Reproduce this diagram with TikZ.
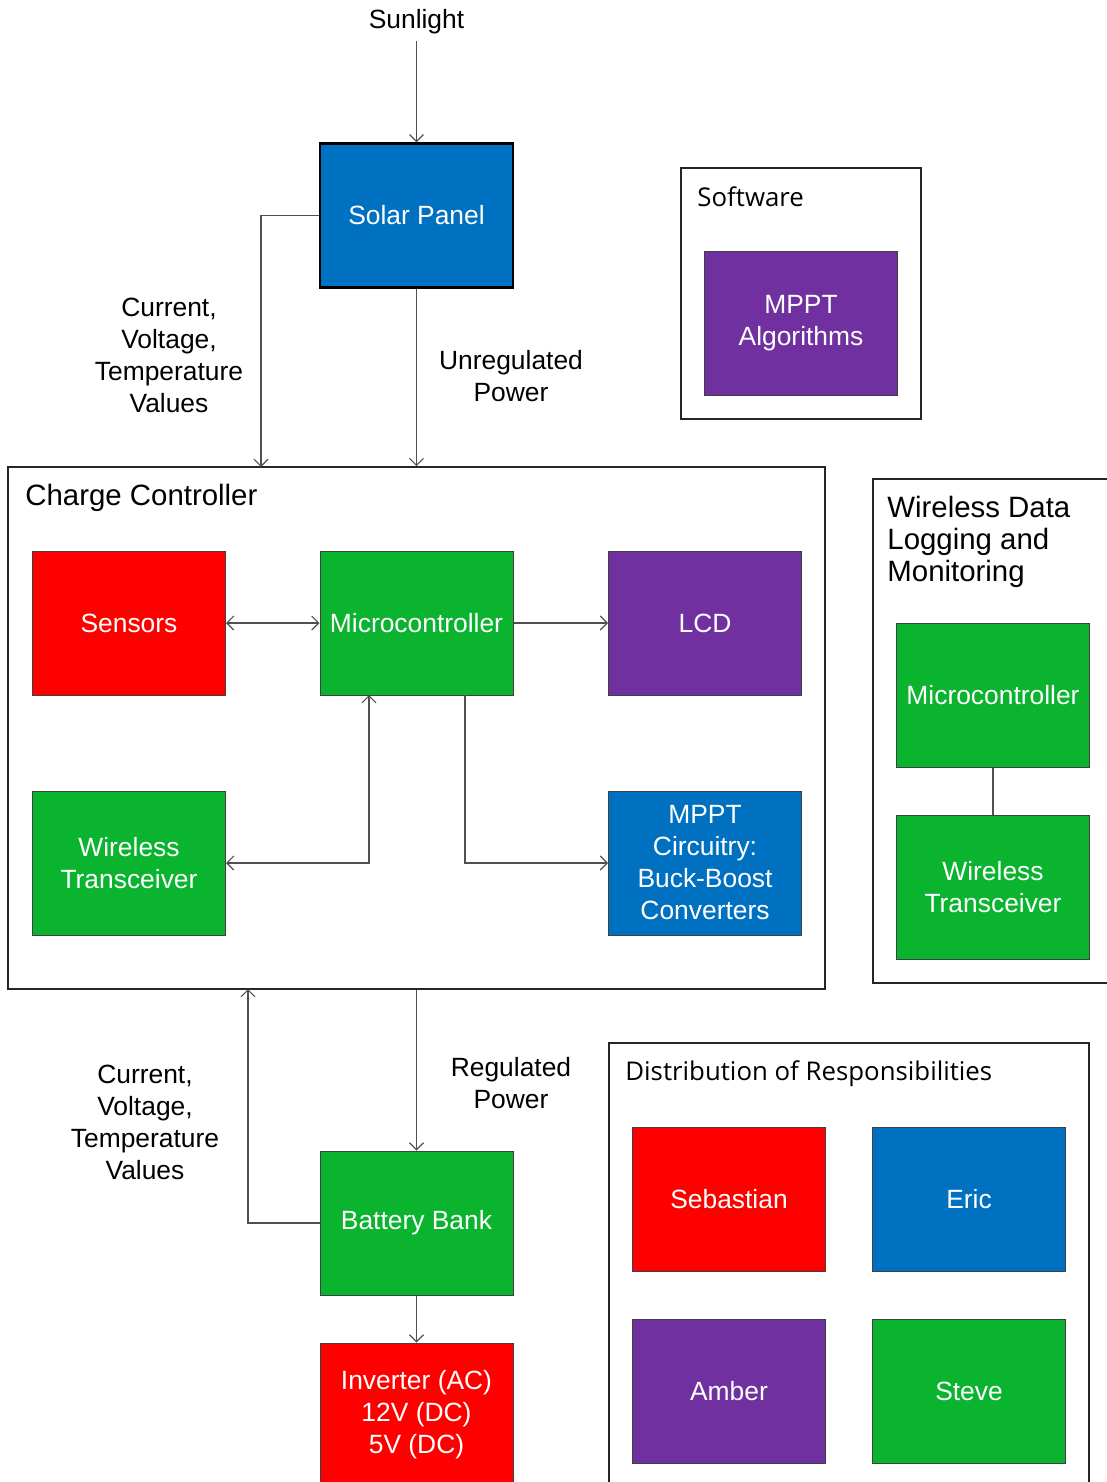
\documentclass[tikz,border=0pt]{standalone}
\usepackage{fontspec}
\setmainfont{Liberation Sans}
\newfontfamily\uifont{Open Sans}
\definecolor{panelblue}{HTML}{0070C0}
\definecolor{alertred}{HTML}{FF0000}
\definecolor{chipgreen}{HTML}{0AB42F}
\definecolor{softpurple}{HTML}{7030A0}
\definecolor{wiregray}{HTML}{505050}
\usepackage{tikz}
\usetikzlibrary{arrows.meta, positioning, calc}

\tikzset{
  block/.style={draw=black!75, line width=0.5pt, minimum width=96.5pt, minimum height=72pt,
    inner sep=0pt, align=center, text=white, font=\fontsize{13.2}{16}\selectfont},
  frame/.style={draw=black!85, line width=0.8pt, inner sep=0pt},
  wire/.style={draw=wiregray, line width=0.55pt},
  note/.style={align=center, font=\fontsize{13.2}{16}\selectfont},
  title/.style={anchor=west, inner sep=0pt, font=\fontsize{14.7}{16}\selectfont},
  uititle/.style={anchor=west, inner sep=0pt, font=\uifont\fontsize{12.9}{15}\selectfont},
}

\begin{document}
\begin{tikzpicture}[x=0.5pt, y=-0.5pt, >={Straight Barb[length=3.5pt,width=7pt]}]
  \useasboundingbox (0,0) rectangle (1107,1482);
  \clip (0,0) rectangle (1107,1482);

  % Solar input
  \node[note] (sun) at (416.5, 22) {Sunlight};
  \node[block, fill=panelblue, draw=black, line width=1.2pt] (solar) at (416.5, 215.5) {Solar Panel};

  % Software
  \node[frame, minimum width=120pt, minimum height=125.5pt] (software) at (801, 293.5) {};
  \node[uititle] (softtitle) at (697, 197) {Software};
  \node[block, fill=softpurple] (mpptalg) at (801, 323.5) {MPPT\\Algorithms};

  % Charge controller
  \node[frame, minimum width=408.5pt, minimum height=261pt] (charge) at (416.5, 728) {};
  \node[title] (chargetitle) at (25, 498) {Charge Controller};
  \node[block, fill=alertred] (sensors) at (129, 623) {Sensors};
  \node[block, fill=chipgreen] (micro) at (416.5, 623) {Microcontroller};
  \node[block, fill=softpurple] (lcd) at (705, 623) {LCD};
  \node[block, fill=chipgreen] (wireless) at (129, 863) {Wireless\\Transceiver};
  \node[block, fill=panelblue] (mpptcirc) at (705, 863) {MPPT\\Circuitry:\\Buck-Boost\\Converters};
  \coordinate (microin) at (369, 695);
  \coordinate (microout) at (465, 695);
  \coordinate (sensein) at (261, 467);

  % Wireless logging
  \node[anchor=north west, inner sep=0pt, align=left, font=\fontsize{14.7}{16}\selectfont] (logtitle) at (887, 496)
    {Wireless Data\\Logging and\\Monitoring};
  \node[frame, minimum width=120pt, minimum height=252pt] (logging) at (993, 731) {};
  \node[block, fill=chipgreen] (micro2) at (993, 695) {Microcontroller};
  \node[block, fill=chipgreen] (wireless2) at (993, 887) {Wireless\\Transceiver};

  % Storage and output
  \node[block, fill=chipgreen] (battery) at (416.5, 1223) {Battery Bank};
  \node[block, fill=alertred] (inverter) at (416.5, 1415) {Inverter (AC)\\12V (DC)\\5V (DC)};
  \coordinate (battout) at (248, 989);

  % Responsibilities
  \node[frame, minimum width=240pt, minimum height=240pt] (duties) at (849, 1283) {};
  \node[uititle] (dutytitle) at (625, 1074) {Distribution of Responsibilities};
  \foreach \nm/\who/\clr/\x/\y in {sebastian/Sebastian/alertred/729/1199, eric/Eric/panelblue/969/1199,
      amber/Amber/softpurple/729/1391, steve/Steve/chipgreen/969/1391} {
    \node[block, fill=\clr] (\nm) at (\x, \y) {\who};
  }

  % Labels
  \node[note] (vals1) at (169, 355) {Current,\\Voltage,\\Temperature\\Values};
  \node[note] (unreg) at (511, 376) {Unregulated\\Power};
  \node[note] (vals2) at (145, 1122) {Current,\\Voltage,\\Temperature\\Values};
  \node[note] (reg) at (511, 1083) {Regulated\\Power};

  % Connectors
  \draw[wire, ->] (sun) -- (solar.north);
  \draw[wire, ->] (solar.west) -| (sensein);
  \draw[wire, ->] (solar.south) -- (charge.north);
  \draw[wire, <->] (sensors.east) -- (micro.west);
  \draw[wire, ->] (micro.east) -- (lcd.west);
  \draw[wire, <->] (wireless.east) -| (microin);
  \draw[wire, ->] (microout) |- (mpptcirc.west);
  \draw[wire] (micro2.south) -- (wireless2.north);
  \draw[wire, ->] (charge.south) -- (battery.north);
  \draw[wire, ->] (battery.west) -| (battout);
  \draw[wire, ->] (battery.south) -- (inverter.north);
\end{tikzpicture}
\end{document}
